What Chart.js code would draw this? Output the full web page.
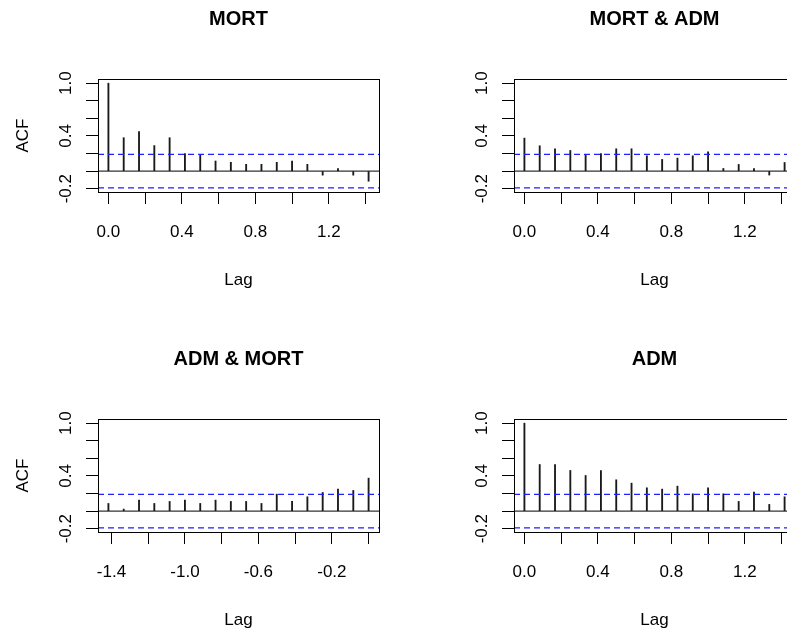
<!DOCTYPE html>
<html><head><meta charset="utf-8">
<script src="https://cdn.jsdelivr.net/npm/chart.js@4/dist/chart.umd.min.js"></script>
<style>
html,body{margin:0;padding:0;background:#fff;overflow:hidden;width:787px;height:635px;position:relative;}
canvas{position:absolute;}
</style></head><body>
<canvas id="c1" width="400" height="317" style="left:0px;top:0px"></canvas>
<canvas id="c2" width="400" height="317" style="left:416px;top:0px"></canvas>
<canvas id="c3" width="400" height="317" style="left:0px;top:340px"></canvas>
<canvas id="c4" width="400" height="317" style="left:416px;top:340px"></canvas>
<script>
// ---- data ----
const lagsPos = [0, 0.0833, 0.1667, 0.25, 0.3333, 0.4167, 0.5, 0.5833, 0.6667, 0.75, 0.8333, 0.9167, 1, 1.0833, 1.1667, 1.25, 1.3333, 1.4167];
const lagsNeg = [-1.4167, -1.3333, -1.25, -1.1667, -1.0833, -1, -0.9167, -0.8333, -0.75, -0.6667, -0.5833, -0.5, -0.4167, -0.3333, -0.25, -0.1667, -0.0833, 0];
const acfMort    = [1.0, 0.38, 0.45, 0.29, 0.38, 0.20, 0.18, 0.115, 0.10, 0.077, 0.077, 0.10, 0.115, 0.077, -0.046, 0.03, -0.046, -0.115];
const ccfMortAdm = [0.375, 0.288, 0.254, 0.235, 0.18, 0.20, 0.254, 0.254, 0.174, 0.133, 0.148, 0.174, 0.22, 0.03, 0.076, 0.03, -0.045, 0.098];
const ccfAdmMort = [0.087, 0.023, 0.125, 0.087, 0.11, 0.125, 0.087, 0.125, 0.11, 0.11, 0.087, 0.193, 0.11, 0.163, 0.212, 0.25, 0.235, 0.375];
const acfAdm     = [1.0, 0.53, 0.53, 0.462, 0.405, 0.462, 0.356, 0.318, 0.265, 0.25, 0.284, 0.197, 0.265, 0.197, 0.11, 0.216, 0.076, 0.163];
const ciLimit = 0.19;
const titles = ["MORT", "MORT & ADM", "ADM & MORT", "ADM"];
const yTicks = [-0.2, 0, 0.2, 0.4, 0.6, 0.8, 1.0];
const yTickLabels = {"-0.2": "-0.2", "0.4": "0.4", "1": "1.0"};
const xTicksPos = [0, 0.2, 0.4, 0.6, 0.8, 1, 1.2, 1.4];
const xTickLabelsPos = {"0": "0.0", "0.4": "0.4", "0.8": "0.8", "1.2": "1.2"};
const xTicksNeg = [-1.4, -1.2, -1, -0.8, -0.6, -0.4, -0.2, 0];
const xTickLabelsNeg = {"-1.4": "-1.4", "-1": "-1.0", "-0.6": "-0.6", "-0.2": "-0.2"};

// ---- layout ----
const FONT = "'Liberation Sans', Arial, sans-serif";
const W = 400, H = 317;
const BOX_LEFT = 98, BOX_RIGHT = 379, BOX_TOP = 79, BOX_BOTTOM = 192;

function rangeExp(lo, hi) { const d = (hi - lo) * 0.04; return [lo - d, hi + d]; }
const allVals = acfMort.concat(ccfMortAdm, ccfAdmMort, acfAdm, [ciLimit, -ciLimit]);
const [yMin, yMax] = rangeExp(Math.min(...allVals), Math.max(...allVals));

const boxPlugin = {
  id: 'box',
  afterDraw(chart) {
    const {ctx, chartArea: a} = chart;
    ctx.save();
    ctx.strokeStyle = '#000';
    ctx.lineWidth = 1;
    ctx.strokeRect(Math.round(a.left) + 0.5, Math.round(a.top) + 0.5,
                   Math.round(a.right - a.left), Math.round(a.bottom - a.top));
    ctx.restore();
  }
};

function makePanel(id, title, lags, vals, xTicks, xLabels, showYTitle) {
  const [xMin, xMax] = rangeExp(Math.min(...lags), Math.max(...lags));
  const hline = (y, color, dash, width) => ({
    type: 'line', xAxisID: 'x', yAxisID: 'y',
    data: [{x: xMin, y: y}, {x: xMax, y: y}],
    borderColor: color, borderWidth: width, borderDash: dash,
    pointRadius: 0, fill: false, order: 0
  });
  new Chart(document.getElementById(id), {
    type: 'bar',
    data: {
      datasets: [
        {
          type: 'bar', xAxisID: 'x', yAxisID: 'y',
          data: lags.map((x, i) => ({x: x, y: vals[i]})),
          backgroundColor: '#1a1a1a',
          barThickness: 1.2,
          order: 1
        },
        hline(0, '#000', [], 1),
        hline(ciLimit, '#1f1fff', [6, 4], 1.3),
        hline(-ciLimit, '#1f1fff', [6, 4], 1.3)
      ]
    },
    options: {
      responsive: false,
      animation: false,
      devicePixelRatio: 1,
      layout: {padding: {left: 0, right: W - BOX_RIGHT, top: 0, bottom: 0}},
      plugins: {
        legend: {display: false},
        tooltip: {enabled: false},
        title: {display: false}
      },
      scales: {
        x: {
          type: 'linear', position: 'bottom', min: xMin, max: xMax, offset: false,
          afterBuildTicks: s => { s.ticks = xTicks.map(v => ({value: v})); },
          afterFit: s => { s.height = H - BOX_BOTTOM; },
          ticks: {
            autoSkip: false, maxRotation: 0, minRotation: 0, padding: 18,
            color: '#000', font: {family: FONT, size: 17},
            callback: v => (xLabels[String(v)] !== undefined ? xLabels[String(v)] : '')
          },
          grid: {drawOnChartArea: false, offset: false, color: '#000', tickColor: '#000', tickLength: 12, lineWidth: 1},
          border: {display: true, color: '#000'},
          title: {display: true, text: 'Lag', color: '#000', font: {family: FONT, size: 17}, padding: {top: 0, bottom: 26}}
        },
        y: {
          type: 'linear', position: 'left', min: yMin, max: yMax,
          afterBuildTicks: s => { s.ticks = yTicks.map(v => ({value: v})); },
          afterFit: s => { s.width = BOX_LEFT; },
          ticks: {
            autoSkip: false, minRotation: 90, maxRotation: 90, crossAlign: 'center', padding: 5,
            color: '#000', font: {family: FONT, size: 17},
            callback: v => (yTickLabels[String(v)] !== undefined ? yTickLabels[String(v)] : '')
          },
          grid: {drawOnChartArea: false, color: '#000', tickColor: '#000', tickLength: 12, lineWidth: 1},
          border: {display: true, color: '#000'},
          title: {display: showYTitle, text: 'ACF', color: '#000', font: {family: FONT, size: 17}, padding: {top: 13, bottom: 0}}
        },
        top: {
          type: 'linear', axis: 'x', position: 'top', min: xMin, max: xMax,
          afterFit: s => { s.height = BOX_TOP; },
          ticks: {display: false},
          grid: {display: false, drawTicks: false},
          border: {display: false},
          title: {display: true, text: title, color: '#000',
                  font: {family: FONT, size: 20, weight: 'bold'}, padding: {top: 7, bottom: 0}}
        }
      }
    },
    plugins: [boxPlugin]
  });
}

makePanel('c1', titles[0], lagsPos, acfMort, xTicksPos, xTickLabelsPos, true);
makePanel('c2', titles[1], lagsPos, ccfMortAdm, xTicksPos, xTickLabelsPos, false);
makePanel('c3', titles[2], lagsNeg, ccfAdmMort, xTicksNeg, xTickLabelsNeg, true);
makePanel('c4', titles[3], lagsPos, acfAdm, xTicksPos, xTickLabelsPos, false);
</script>
</body></html>
